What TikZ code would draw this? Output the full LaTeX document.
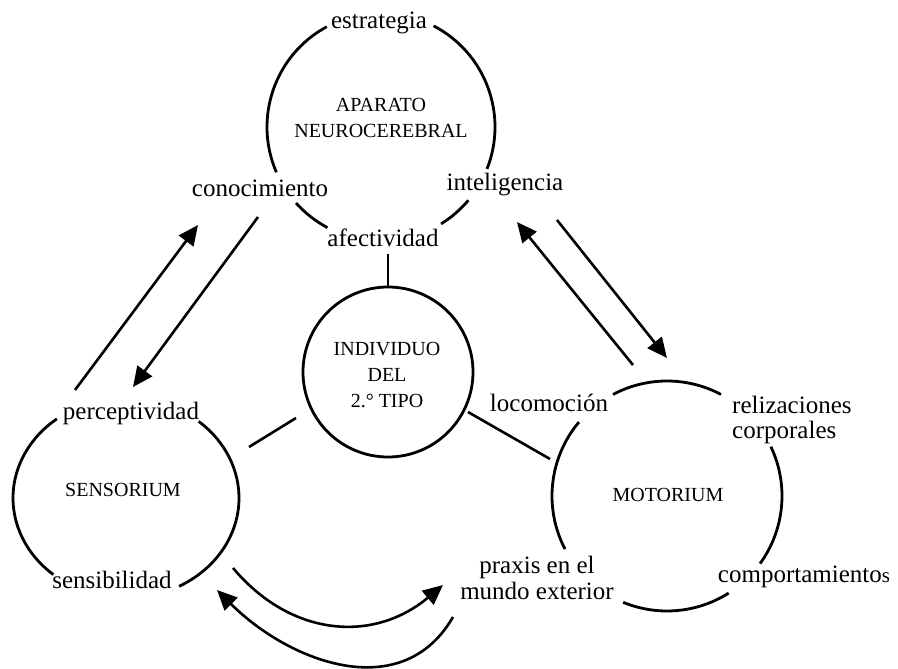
\documentclass[tikz,border=0pt]{standalone}
\usepackage{fontspec}
\setmainfont{Liberation Serif}
\usetikzlibrary{arrows.meta}
\newcommand\ringarc[4]{\draw[ringline] ([shift={(#2:#4)}]#1.center) arc[start angle=#2,end angle=#3,radius=#4];}
\newcommand\ovalarc[5]{\draw[ringline] ([shift={(#2:#4 and #5)}]#1.center) arc[start angle=#2,end angle=#3,x radius=#4,y radius=#5];}
\begin{document}
\begin{tikzpicture}[x=1pt,y=1pt,
  ringline/.style={line width=2.8pt},
  lab/.style={font=\fontsize{25}{25.5}\selectfont, inner sep=0pt},
  captext/.style={font=\fontsize{20}{26}\selectfont, align=center, inner sep=0pt},
  conn/.style={line width=2.6pt},
  arr/.style={conn, -{Triangle[length=20pt,width=18pt]}},
  hub/.style={circle, inner sep=0pt, draw=none}
]
\useasboundingbox[fill=white] (0,0) rectangle (898,-669);

% hubs (circle centres)
\node[hub, minimum size=228pt] (apar) at (381,-127) {};
\node[hub, minimum size=226pt] (sens) at (126,-498) {};
\node[hub, minimum size=230pt] (mot) at (667,-496) {};
\node[hub, draw, ringline, minimum size=170pt] (indiv) at (388,-372) {};

% inner texts
\node[captext] (apartxt) at (381,-118) {APARATO\\NEUROCEREBRAL};
\node[captext] (senstxt) at (123,-490) {SENSORIUM};
\node[captext] (mottxt) at (668,-495) {MOTORIUM};
\node[captext] (indivtxt) at (387,-375) {INDIVIDUO\\DEL\\2.° TIPO};

% top circle arcs
\ringarc{apar}{118.4}{203.4}{114}
\ringarc{apar}{221.8}{242}{114}
\ringarc{apar}{301.8}{320}{114}
\ringarc{apar}{338.4}{422.5}{114}

% sensorium arcs
\ovalarc{sens}{127.7}{230}{113}{100}
\ovalarc{sens}{-62}{50}{113}{100}

% motorium arcs
\ringarc{mot}{62}{118}{115}
\ringarc{mot}{140}{207.5}{115}
\ringarc{mot}{247.6}{302.4}{115}
\ringarc{mot}{324}{385.4}{115}

% labels
\node[lab] (estr) at (379,-23) {estrategia};
\node[lab] (cono) at (260,-188) {conocimiento};
\node[lab] (inte) at (505,-185) {inteligencia};
\node[lab] (afec) at (383,-238) {afectividad};
\node[lab] (perc) at (131,-413) {perceptividad};
\node[lab] (sensi) at (112,-580) {sensibilidad};
\node[lab] (loco) at (549,-403) {locomoción};
\node[lab, align=left, anchor=west] (reli) at (732,-420) {relizaciones\\corporales};
\node[lab] (comp) at (804,-577) {comportamiento{\fontsize{21}{22}\selectfont s}};
\node[lab, align=center] (praxis) at (537,-578) {praxis en el\\mundo exterior};

% plain connectors
\draw[conn] (indiv.north) -- ++(0,32);
\coordinate (sl1) at (296,-418);
\coordinate (sl2) at (249,-447);
\draw[conn] (sl1) -- (sl2);
\coordinate (ml1) at (468,-412);
\coordinate (ml2) at (550,-459);
\draw[conn] (ml1) -- (ml2);

% straight arrows
\coordinate (lu1) at (75,-390);
\coordinate (lu2) at (198,-225);
\draw[arr] (lu1) -- (lu2);
\coordinate (ld1) at (258,-217);
\coordinate (ld2) at (133,-387);
\draw[arr] (ld1) -- (ld2);
\coordinate (ru1) at (633,-365);
\coordinate (ru2) at (517,-222);
\draw[arr] (ru1) -- (ru2);
\coordinate (rd1) at (557,-220);
\coordinate (rd2) at (667,-358);
\draw[arr] (rd1) -- (rd2);

% curved arrows
\coordinate (cu1) at (233,-568);
\coordinate (cu2) at (443,-585);
\draw[arr] (cu1) to[out=-50,in=220,looseness=1.1] (cu2);
\coordinate (cl1) at (453,-617);
\coordinate (cl2) at (217,-590);
\draw[arr] (cl1) to[out=240,in=-45,looseness=1.1] (cl2);
\end{tikzpicture}
\end{document}
